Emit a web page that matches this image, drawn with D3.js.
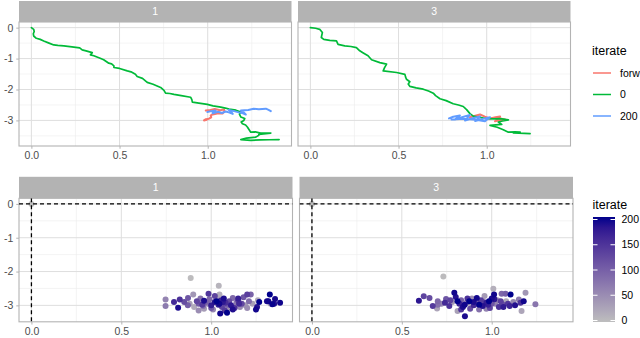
<!DOCTYPE html>
<html>
<head>
<meta charset="utf-8">
<script src="https://cdn.jsdelivr.net/npm/d3@7"></script>
<style>
body { margin: 0; background: #fff; }
svg { display: block; font-family: "Liberation Sans", Arial, sans-serif; }
</style>
</head>
<body>
<svg id="chart" width="640" height="338"></svg>
<script>
// facet labels and legend keys
const facets = ['1', '3'];
const pathKeys = ['forw', '0', '200'];
const pathColors = ['#F8766D', '#00BA38', '#619CFF'];
const xTicks = [0, 0.5, 1.0];
const yTicks = [-3, -2, -1, 0];
const colorTicks = [0, 50, 100, 150, 200];

// top row: trajectories, [x, y]
const green1 = [[0,0],[0.013,-0.055],[0.016,-0.12],[0.011,-0.2],[0.013,-0.27],[0.028,-0.345],[0.05,-0.38],[0.07,-0.43],[0.1,-0.5],[0.127,-0.56],[0.15,-0.575],[0.184,-0.59],[0.23,-0.62],[0.274,-0.655],[0.288,-0.72],[0.31,-0.75],[0.345,-0.81],[0.335,-0.88],[0.354,-0.91],[0.39,-0.99],[0.41,-1.04],[0.439,-1.15],[0.455,-1.17],[0.468,-1.235],[0.468,-1.29],[0.5,-1.32],[0.544,-1.40],[0.565,-1.43],[0.59,-1.51],[0.60,-1.58],[0.63,-1.64],[0.657,-1.77],[0.69,-1.83],[0.733,-1.935],[0.752,-2.03],[0.761,-2.12],[0.785,-2.13],[0.809,-2.16],[0.85,-2.2],[0.903,-2.25],[0.91,-2.33],[0.913,-2.41],[0.95,-2.44],[0.998,-2.48],[1.03,-2.53],[1.074,-2.57],[1.1,-2.6],[1.121,-2.635],[1.16,-2.67],[1.188,-2.73],[1.18,-2.8],[1.188,-2.89],[1.21,-2.94],[1.205,-3.0],[1.19,-3.05],[1.197,-3.11],[1.215,-3.15],[1.226,-3.22],[1.235,-3.3],[1.244,-3.38],[1.27,-3.37],[1.30,-3.41],[1.358,-3.41],[1.29,-3.45],[1.29,-3.48],[1.273,-3.54],[1.22,-3.57],[1.188,-3.62],[1.244,-3.645],[1.3,-3.63],[1.35,-3.625],[1.405,-3.62]];
const forw1 = [[0.989,-2.68],[1.015,-2.66],[1.04,-2.63],[1.07,-2.67],[1.093,-2.65],[1.095,-2.71],[1.084,-2.78],[1.06,-2.77],[1.028,-2.81],[1.035,-2.79],[1.017,-2.84],[1.02,-2.9],[1.007,-2.945],[0.99,-2.96],[0.979,-3.0],[0.995,-2.98]];
const blue1 = [[0.998,-2.73],[1.02,-2.7],[1.045,-2.68],[1.03,-2.74],[1.028,-2.77],[1.06,-2.72],[1.08,-2.76],[1.102,-2.71],[1.12,-2.74],[1.142,-2.79],[1.13,-2.7],[1.119,-2.66],[1.15,-2.7],[1.176,-2.74],[1.2,-2.77],[1.216,-2.81],[1.2,-2.72],[1.188,-2.68],[1.23,-2.66],[1.261,-2.62],[1.29,-2.64],[1.33,-2.62],[1.345,-2.66],[1.358,-2.70]];

const green3 = [[0,0],[0.03,-0.02],[0.053,-0.055],[0.068,-0.16],[0.062,-0.32],[0.076,-0.38],[0.11,-0.41],[0.148,-0.43],[0.157,-0.54],[0.195,-0.59],[0.23,-0.61],[0.261,-0.645],[0.28,-0.75],[0.3,-0.82],[0.327,-0.91],[0.347,-1.04],[0.394,-1.13],[0.432,-1.18],[0.42,-1.3],[0.413,-1.40],[0.489,-1.45],[0.536,-1.51],[0.54,-1.6],[0.545,-1.67],[0.564,-1.75],[0.555,-1.82],[0.564,-1.90],[0.6,-1.95],[0.64,-1.99],[0.67,-2.05],[0.697,-2.12],[0.71,-2.2],[0.735,-2.30],[0.77,-2.36],[0.81,-2.46],[0.84,-2.5],[0.867,-2.55],[0.88,-2.62],[0.886,-2.65],[0.905,-2.78],[0.924,-2.86],[0.96,-2.9],[1.0,-2.945],[1.04,-2.95],[1.076,-2.945],[1.123,-2.98],[1.09,-3.02],[1.066,-3.05],[1.085,-3.13],[1.019,-3.16],[1.06,-3.22],[1.094,-3.30],[1.123,-3.38],[1.16,-3.37],[1.19,-3.38],[1.15,-3.4],[1.246,-3.43]];
const forw3 = [[0.905,-2.90],[0.93,-2.86],[0.962,-2.81],[0.99,-2.88],[1.019,-2.935],[1.05,-2.9],[1.076,-2.87],[1.06,-2.96],[1.047,-3.03],[1.08,-2.99],[1.104,-2.97],[1.07,-2.93]];
const blue3 = [[0.786,-2.935],[0.81,-2.88],[0.848,-2.84],[0.83,-2.92],[0.82,-2.97],[0.86,-2.9],[0.905,-2.82],[0.89,-2.92],[0.877,-3.0],[0.92,-2.93],[0.962,-2.87],[0.95,-2.96],[0.934,-3.02],[0.98,-2.95],[1.019,-2.90],[1.0,-2.98],[0.99,-3.03],[0.94,-2.98],[0.87,-2.95],[0.8,-2.97]];

// bottom row: points, [x, y, iterate]
const points1 = [[0,0,0],[0.886,-2.19,2],[1.042,-2.42,10],[0.746,-2.83,60],[0.746,-3.02,70],[0.793,-2.90,160],[0.816,-3.07,190],[0.825,-2.83,150],[0.85,-2.90,120],[0.871,-2.78,110],[0.88,-2.95,30],[0.90,-2.68,40],[0.905,-3.05,20],[0.92,-2.88,130],[0.93,-3.15,50],[0.94,-2.80,80],[0.95,-2.98,140],[0.96,-3.10,35],[0.97,-2.90,100],[0.985,-2.66,145],[0.99,-2.82,90],[1.0,-3.0,175],[1.01,-3.12,60],[1.02,-2.90,185],[1.03,-2.78,25],[1.04,-2.98,170],[1.046,-2.68,15],[1.05,-3.24,195],[1.055,-2.85,165],[1.06,-3.05,130],[1.07,-2.80,190],[1.08,-2.92,155],[1.088,-3.22,200],[1.09,-3.10,45],[1.10,-2.88,120],[1.11,-3.00,180],[1.12,-2.78,90],[1.13,-3.08,150],[1.14,-2.92,75],[1.15,-2.85,140],[1.16,-3.05,55],[1.17,-2.95,125],[1.18,-2.76,110],[1.19,-3.00,40],[1.20,-2.68,135],[1.21,-2.88,85],[1.22,-2.68,95],[1.23,-2.95,30],[1.249,-3.12,195],[1.255,-3.05,185],[1.267,-2.90,200],[1.26,-2.85,20],[1.326,-2.68,200],[1.31,-2.88,190],[1.318,-2.88,195],[1.34,-2.97,198],[1.355,-2.81,192],[1.35,-2.95,185],[1.383,-2.92,196],[1.33,-2.95,25],[0.96,-2.86,190],[1.03,-2.88,200],[1.045,-2.95,195],[1.065,-2.90,178],[0.98,-2.95,60],[1.00,-3.08,110],[1.12,-3.12,188],[1.09,-2.98,100],[0.93,-2.95,105],[1.155,-2.95,160],[1.20,-3.08,50],[0.87,-3.0,100],[1.02,-2.72,130],[1.15,-2.80,170],[1.075,-3.15,140],[0.955,-3.02,80]];
const points3 = [[0,0,0],[0.731,-2.15,3],[0.595,-2.86,180],[0.622,-2.73,130],[0.654,-2.78,120],[0.672,-3.02,140],[0.696,-3.09,25],[0.70,-2.88,90],[0.72,-2.95,60],[0.746,-2.81,110],[0.764,-3.02,150],[0.78,-2.90,40],[0.792,-2.63,195],[0.80,-2.75,185],[0.81,-3.17,30],[0.82,-2.95,170],[0.83,-2.85,100],[0.84,-3.05,190],[0.851,-3.32,190],[0.86,-2.92,70],[0.875,-2.88,200],[0.88,-3.10,120],[0.89,-2.80,50],[0.90,-3.0,160],[0.917,-2.78,195],[0.92,-2.95,110],[0.93,-3.12,80],[0.94,-2.85,140],[0.95,-3.02,185],[0.96,-2.72,35],[0.97,-2.92,175],[0.985,-2.88,200],[0.99,-3.08,130],[1.0,-2.80,190],[1.009,-2.51,15],[1.013,-2.68,195],[1.02,-2.95,60],[1.03,-2.85,45],[1.04,-3.05,150],[1.055,-2.66,90],[1.059,-2.97,120],[1.077,-2.66,100],[1.08,-2.88,20],[1.10,-3.02,165],[1.105,-2.68,200],[1.12,-2.90,55],[1.151,-2.83,70],[1.166,-3.17,25],[1.178,-2.88,195],[1.188,-2.63,40],[1.243,-2.97,75],[0.74,-2.92,160],[0.77,-2.85,130],[0.81,-2.88,200],[0.85,-2.98,195],[0.865,-2.80,150],[0.90,-2.90,190],[0.93,-2.98,200],[0.955,-2.90,100],[0.98,-2.98,170],[1.0,-2.95,110],[1.015,-2.82,180],[1.05,-2.88,135],[1.065,-3.05,175],[1.09,-2.95,145],[1.13,-3.0,185],[0.88,-2.93,10],[0.70,-2.98,80],[0.97,-3.10,60],[1.16,-2.92,150],[0.83,-3.12,145]];

const svg = d3.select('#chart');
const grey70 = '#B3B3B3';

const expand = (ext) => {
    const pad = (ext[1] - ext[0]) * 0.05;
    return [ext[0] - pad, ext[1] + pad];
};

const minor = (ticks, dom) => {
    let out = [];
    for (let i = 0; i < ticks.length - 1; i++) out.push((ticks[i] + ticks[i + 1]) / 2);
    const step = ticks[1] - ticks[0];
    out.push(ticks[0] - step / 2, ticks[ticks.length - 1] + step / 2);
    return out.filter(v => v > dom[0] && v < dom[1]);
};

// draws one facet panel, returns its scales
const drawPanel = (opts) => {
    const {left, top, width, height, stripH, label, xDom, yDom, showY, id} = opts;
    const x = d3.scaleLinear().domain(xDom).range([0, width]);
    const y = d3.scaleLinear().domain(yDom).range([height, 0]);
    const g = svg.append('g').attr('transform', `translate(${left},${top})`);

    g.append('rect').attr('x', 0).attr('y', -stripH).attr('width', width).attr('height', stripH).attr('fill', grey70);
    g.append('text').attr('x', width / 2).attr('y', -stripH / 2).attr('dy', '0.35em')
        .attr('text-anchor', 'middle').attr('fill', '#fff').style('font-size', '10.5px').text(label);

    const grid = g.append('g');
    minor(xTicks, xDom).forEach(v => grid.append('line').attr('x1', x(v)).attr('x2', x(v)).attr('y1', 0).attr('y2', height)
        .attr('stroke', '#EDEDED').attr('stroke-width', 0.6));
    minor(yTicks, yDom).forEach(v => grid.append('line').attr('y1', y(v)).attr('y2', y(v)).attr('x1', 0).attr('x2', width)
        .attr('stroke', '#EDEDED').attr('stroke-width', 0.6));
    xTicks.forEach(v => grid.append('line').attr('x1', x(v)).attr('x2', x(v)).attr('y1', 0).attr('y2', height)
        .attr('stroke', '#DEDEDE').attr('stroke-width', 1));
    yTicks.forEach(v => grid.append('line').attr('y1', y(v)).attr('y2', y(v)).attr('x1', 0).attr('x2', width)
        .attr('stroke', '#DEDEDE').attr('stroke-width', 1));

    svg.append('clipPath').attr('id', id).append('rect')
        .attr('x', left).attr('y', top).attr('width', width).attr('height', height);
    const marks = svg.append('g').attr('clip-path', `url(#${id})`)
        .append('g').attr('transform', `translate(${left},${top})`);

    const xa = g.append('g').attr('transform', `translate(0,${height})`)
        .call(d3.axisBottom(x).tickValues(xTicks).tickFormat(d3.format('.1f')).tickSize(2.75).tickPadding(2.5));
    xa.select('.domain').remove();
    xa.selectAll('line').attr('stroke', grey70);
    xa.selectAll('text').attr('fill', '#4D4D4D').style('font-size', '10.5px').style('font-family', 'Liberation Sans, Arial, sans-serif');

    if (showY) {
        const ya = g.append('g')
            .call(d3.axisLeft(y).tickValues(yTicks).tickFormat(d => String(d)).tickSize(2.75).tickPadding(3));
        ya.select('.domain').remove();
        ya.selectAll('line').attr('stroke', grey70);
        ya.selectAll('text').attr('fill', '#4D4D4D').style('font-size', '10.5px').style('font-family', 'Liberation Sans, Arial, sans-serif');
    }

    const border = g.append('rect').attr('x', 0).attr('y', 0).attr('width', width).attr('height', height)
        .attr('fill', 'none').attr('stroke', grey70).attr('stroke-width', 1.1);

    return {x, y, marks, g, border};
};

// ---- top row ----
const topPaths = [[forw1, green1, blue1], [forw3, green3, blue3]];
const allTop = topPaths.flat(2);
const xDomTop = expand(d3.extent(allTop, d => d[0]));
const yDomTop = expand(d3.extent(allTop, d => d[1]));
const topLefts = [19, 298];

const line = (x, y) => d3.line().x(d => x(d[0])).y(d => y(d[1]));

facets.forEach((f, i) => {
    const p = drawPanel({left: topLefts[i], top: 22, width: 272.5, height: 124, stripH: 21, label: f,
        xDom: xDomTop, yDom: yDomTop, showY: i === 0, id: 'clipTop' + i});
    topPaths[i].forEach((path, k) => {
        p.marks.append('path').attr('d', line(p.x, p.y)(path)).attr('fill', 'none')
            .attr('stroke', pathColors[k]).attr('stroke-width', k === 1 ? 1.7 : 2)
            .attr('stroke-linejoin', 'round').attr('stroke-linecap', 'round');
    });
});

// top legend
const legTop = svg.append('g');
legTop.append('text').attr('x', 592).attr('y', 55).style('font-size', '12.5px').attr('fill', '#000').text('iterate');
const keyY = [73, 94.5, 116];
pathKeys.forEach((k, i) => {
    legTop.append('line').attr('x1', 593).attr('x2', 611).attr('y1', keyY[i]).attr('y2', keyY[i])
        .attr('stroke', pathColors[i]).attr('stroke-width', 1.5);
    legTop.append('text').attr('x', 620).attr('y', keyY[i]).attr('dy', '0.35em')
        .style('font-size', '10.5px').attr('fill', '#000').text(k);
});

// ---- bottom row ----
const color = d3.scaleLinear().domain([0, 200]).range(['#BEBEBE', '#00008B']).interpolate(d3.interpolateLab);
const bottomPoints = [points1, points3];
const allBottom = bottomPoints.flat();
const xDomBot = expand(d3.extent(allBottom, d => d[0]));
const yDomBot = expand(d3.extent(allBottom, d => d[1]));
const botLefts = [19, 299.5];

facets.forEach((f, i) => {
    const p = drawPanel({left: botLefts[i], top: 198.3, width: 273.5, height: 123.5, stripH: 21.5, label: f,
        xDom: xDomBot, yDom: yDomBot, showY: i === 0, id: 'clipBot' + i});
    const pts = bottomPoints[i].slice().sort((a, b) => a[2] - b[2]);
    p.marks.selectAll('circle').data(pts).enter().append('circle')
        .attr('cx', d => p.x(d[0])).attr('cy', d => p.y(d[1])).attr('r', 3)
        .attr('fill', d => color(d[2]));
    p.marks.append('line').attr('x1', 0).attr('x2', 273.5).attr('y1', p.y(0)).attr('y2', p.y(0))
        .attr('stroke', '#000').attr('stroke-width', 1.3).attr('stroke-dasharray', '4,3');
    p.marks.append('line').attr('x1', p.x(0)).attr('x2', p.x(0)).attr('y1', 0).attr('y2', 123.5)
        .attr('stroke', '#000').attr('stroke-width', 1.3).attr('stroke-dasharray', '4,3');
    p.border.raise();
});

// colour bar legend
const legBot = svg.append('g');
legBot.append('text').attr('x', 592.5).attr('y', 209).style('font-size', '12.5px').attr('fill', '#000').text('iterate');
const barY = d3.scaleLinear().domain([0, 200]).range([320.5, 219.5]);
const grad = svg.append('defs').append('linearGradient').attr('id', 'cbar')
    .attr('x1', 0).attr('y1', 1).attr('x2', 0).attr('y2', 0);
d3.range(0, 201, 20).forEach(v => grad.append('stop').attr('offset', v / 200).attr('stop-color', color(v)));
legBot.append('rect').attr('x', 593).attr('y', 217).attr('width', 22).attr('height', 105).attr('fill', 'url(#cbar)');
colorTicks.forEach(v => {
    legBot.append('line').attr('x1', 593).attr('x2', 597.5).attr('y1', barY(v)).attr('y2', barY(v)).attr('stroke', '#fff');
    legBot.append('line').attr('x1', 610.5).attr('x2', 615).attr('y1', barY(v)).attr('y2', barY(v)).attr('stroke', '#fff');
    legBot.append('text').attr('x', 621.5).attr('y', barY(v)).attr('dy', '0.35em')
        .style('font-size', '10.5px').attr('fill', '#000').text(v);
});
</script>
</body>
</html>
